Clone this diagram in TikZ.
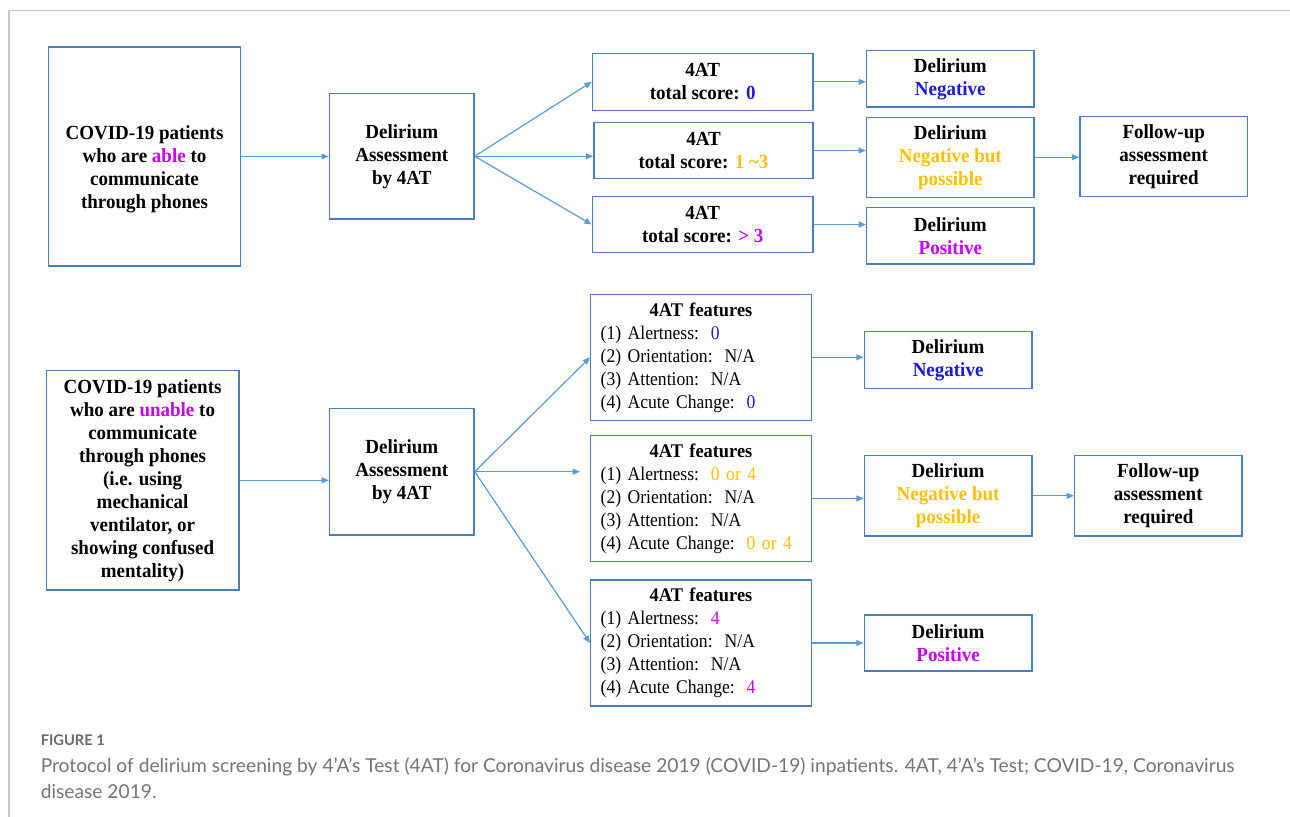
\documentclass[tikz,border=0pt]{standalone}
\usepackage{fontspec}
\setmainfont{Liberation Serif}[FakeStretch=0.95]
\newfontfamily\regf{Liberation Serif}[FakeStretch=0.91]
\newfontfamily\capfont{Lato}
\usetikzlibrary{arrows.meta}
\definecolor{boxblue}{HTML}{4A7EBB}
\definecolor{arrowblue}{HTML}{5B9BD5}
\definecolor{negblue}{HTML}{1A1AE0}
\definecolor{gold}{HTML}{FFC000}
\definecolor{purp}{HTML}{C800F0}
\definecolor{framegray}{HTML}{C8C8C8}
\definecolor{capgray}{HTML}{747474}
\definecolor{labgray}{HTML}{6A6A6A}
\newcommand{\gap}{\hspace{0.62em}}
\begin{document}
\begin{tikzpicture}[x=0.75pt,y=-0.75pt,
  box/.style={draw=boxblue, line width=1.1pt, fill=white, align=center,
    font=\fontsize{15}{17.25}\selectfont\bfseries, inner sep=0pt},
  feat/.style={draw=boxblue, line width=1.1pt, fill=white, align=left,
    text width=150.45pt, inner xsep=7.5pt, inner ysep=0pt,
    minimum height=94.5pt, font=\regf\fontsize{14.5}{17.25}\selectfont},
  txt/.style={align=center, font=\fontsize{15}{17.25}\selectfont\bfseries, inner sep=0pt},
  arr/.style={draw=arrowblue, line width=0.9pt, -{Triangle[length=5.5pt,width=4.5pt]}},
  framestyle/.style={draw=framegray, line width=1.1pt},
  captxt/.style={anchor=base west, inner sep=0pt, text=capgray, font=\capfont\fontsize{14.4}{19.5}\selectfont}
]
\useasboundingbox (0,0) rectangle (1290,817);
\draw[framestyle] (9,817) -- (9,10.3) -- (1290,10.3);

% ---------- top row ----------
\node[box, minimum width=144pt, minimum height=164.25pt] (A1) at (144.5,156.5) {};
\node[txt] (A1t) at ([yshift=-9.75pt]A1.center) {COVID-19 patients\\ who are \textcolor{purp}{able} to\\ communicate\\ through phones};
\node[box, minimum width=108.3pt, minimum height=94pt] (D1) at (401.8,156.3) {Delirium\\ Assessment\\ by 4AT};

\node[box, minimum width=165.4pt, minimum height=42.75pt] (S1) at (702.7,81.8) {4AT\\ total score: \textcolor{negblue}{0}};
\node[box, minimum width=164.25pt, minimum height=41.7pt] (S2) at (703.5,150.5) {4AT\\ total score: \textcolor{gold}{1 \textasciitilde3}};
\node[box, minimum width=165.4pt, minimum height=41.7pt] (S3) at (702.7,224.5) {4AT\\ total score: \textcolor{purp}{> 3}};

\node[box, minimum width=125.55pt, minimum height=42.2pt] (N1) at (950.3,78.8) {Delirium\\ \textcolor{negblue}{Negative}};
\node[box, minimum width=125.55pt, minimum height=60pt] (N2) at (950.3,157.3) {Delirium\\ \textcolor{gold}{Negative but}\\ \textcolor{gold}{possible}};
\node[box, minimum width=125.55pt, minimum height=42.5pt] (N3) at (950.3,235.7) {Delirium\\ \textcolor{purp}{Positive}};
\node[box, minimum width=125.55pt, minimum height=60pt] (F1) at (1163.7,156.3) {Follow-up\\ assessment\\ required};

% ---------- bottom row ----------
\node[box, minimum width=144.3pt, minimum height=164.5pt] (A2) at (142.6,480.3) {COVID-19 patients\\ who are \textcolor{purp}{unable} to\\ communicate\\ through phones\\ (i.e. using\\ mechanical\\ ventilator, or\\ showing confused\\ mentality)};
\node[box, minimum width=108.3pt, minimum height=95pt] (D2) at (401.8,471.7) {Delirium\\ Assessment\\ by 4AT};

\node[feat] (T1) at (701,357.3) {\makebox[\linewidth]{\rmfamily\bfseries 4AT features}\\
 (1) Alertness:\gap\textcolor{negblue}{0}\\
 (2) Orientation:\gap N/A\\
 (3) Attention:\gap N/A\\
 (4) Acute Change:\gap\textcolor{negblue}{0}};
\node[feat] (T2) at (701,498.5) {\makebox[\linewidth]{\rmfamily\bfseries 4AT features}\\
 (1) Alertness:\gap\textcolor{gold}{0 or 4}\\
 (2) Orientation:\gap N/A\\
 (3) Attention:\gap N/A\\
 (4) Acute Change:\gap\textcolor{gold}{0 or 4}};
\node[feat] (T3) at (701,643) {\makebox[\linewidth]{\rmfamily\bfseries 4AT features}\\
 (1) Alertness:\gap\textcolor{purp}{4}\\
 (2) Orientation:\gap N/A\\
 (3) Attention:\gap N/A\\
 (4) Acute Change:\gap\textcolor{purp}{4}};

\node[box, minimum width=125.55pt, minimum height=42.4pt] (M1) at (948.1,360) {Delirium\\ \textcolor{negblue}{Negative}};
\node[box, minimum width=125.55pt, minimum height=60.2pt] (M2) at (948.1,495.8) {Delirium\\ \textcolor{gold}{Negative but}\\ \textcolor{gold}{possible}};
\node[box, minimum width=125.55pt, minimum height=42pt] (M3) at (948.1,643) {Delirium\\ \textcolor{purp}{Positive}};
\node[box, minimum width=125.55pt, minimum height=60.2pt] (F2) at (1158.3,495.8) {Follow-up\\ assessment\\ required};

% ---------- connectors ----------
\draw[arr] (A1.east) -- (A1.east -| D1.west);
\draw[arr] (D1.east) -- (S1.west);
\draw[arr] (D1.east) -- (D1.east -| S2.west);
\draw[arr] (D1.east) -- (S3.west);
\draw[arr] (S1.east) -- (S1.east -| N1.west);
\draw[arr] (S2.east) -- (S2.east -| N2.west);
\draw[arr] (S3.east) -- (S3.east -| N3.west);
\draw[arr] (N2.east) -- (N2.east -| F1.west);

\draw[arr] (A2.east) -- (A2.east -| D2.west);
\draw[arr] (D2.east) -- (T1.west);
\draw[arr] (D2.east) -- ([xshift=-7.5pt]D2.east -| T2.west);
\draw[arr] (D2.east) -- (T3.west);
\draw[arr] (T1.east) -- (T1.east -| M1.west);
\draw[arr] (T2.east) -- (T2.east -| M2.west);
\draw[arr] (T3.east) -- (T3.east -| M3.west);
\draw[arr] (M2.east) -- (M2.east -| F2.west);

% ---------- caption ----------
\node[captxt, text=labgray, font=\capfont\bfseries\fontsize{11}{13}\selectfont] (figlab) at (40.5,745.5) {FIGURE 1};
\node[captxt] (cap1) at (40.5,772) {Protocol of delirium screening by 4’A’s Test (4AT) for Coronavirus disease 2019 (COVID-19) inpatients. 4AT, 4’A’s Test; COVID-19, Coronavirus};
\node[captxt] (cap2) at (40.5,798) {disease 2019.};
\end{tikzpicture}
\end{document}
